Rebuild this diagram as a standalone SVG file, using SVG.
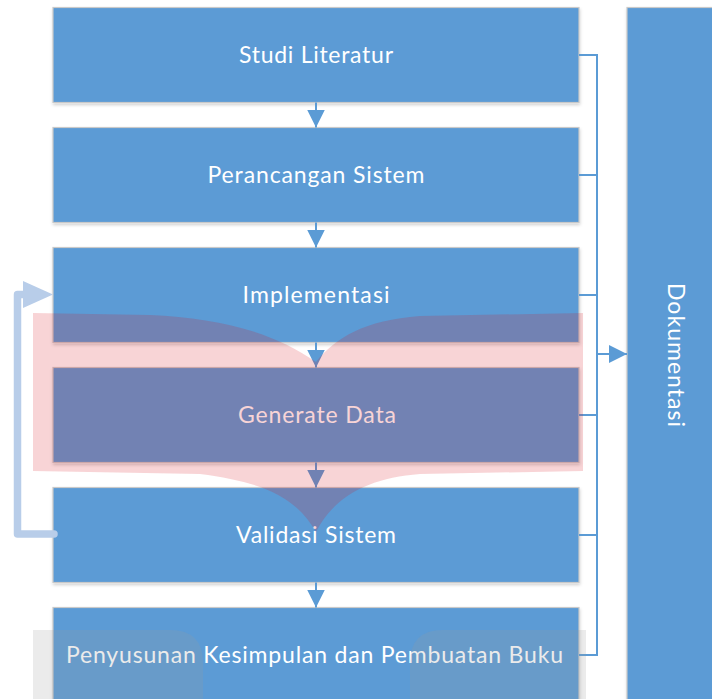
<svg xmlns="http://www.w3.org/2000/svg" width="712" height="699" viewBox="0 0 712 699">
  <defs>
    <style>
      .box { fill: #5b9bd5; stroke: #c9c9c9; stroke-width: 1.2; filter: url(#shadow); }
      .label { fill: #ffffff; font-family: Lato, "Open Sans", "Liberation Sans", sans-serif; font-size: 23px; text-anchor: middle; }
      .flow { fill: none; stroke: #5b9bd5; stroke-width: 2; }
      .loop { fill: none; stroke: #b8cde9; stroke-width: 7.5; stroke-linecap: round; stroke-linejoin: round; }
      .mark-red { fill: #d9111c; fill-opacity: 0.18; }
      .mark-grey { fill: #999999; fill-opacity: 0.2; }
    </style>
    <filter id="shadow" x="-5%" y="-10%" width="110%" height="125%">
      <feDropShadow dx="0.5" dy="2" stdDeviation="1.8" flood-color="#000000" flood-opacity="0.18"/>
    </filter>
    <marker id="head" markerUnits="userSpaceOnUse" markerWidth="20" markerHeight="20" refX="18" refY="9" orient="auto">
      <path d="M0,0 L18,9 L0,18 Z" fill="#5b9bd5"/>
    </marker>
  </defs>

  <!-- process steps -->
  <g id="studi-literatur">
    <rect class="box" x="53" y="7.5" width="526" height="95"/>
    <text class="label" x="316" y="63" textLength="154" lengthAdjust="spacing">Studi Literatur</text>
  </g>
  <g id="perancangan-sistem">
    <rect class="box" x="53" y="127.5" width="526" height="95"/>
    <text class="label" x="316" y="183" textLength="217" lengthAdjust="spacing">Perancangan Sistem</text>
  </g>
  <g id="implementasi">
    <rect class="box" x="53" y="247.5" width="526" height="95"/>
    <text class="label" x="316" y="303" textLength="147" lengthAdjust="spacing">Implementasi</text>
  </g>
  <g id="generate-data">
    <rect class="box" x="53" y="367.5" width="526" height="95"/>
    <text class="label" x="317" y="423" textLength="158" lengthAdjust="spacing">Generate Data</text>
  </g>
  <g id="validasi-sistem">
    <rect class="box" x="53" y="487.5" width="526" height="95"/>
    <text class="label" x="316" y="543" textLength="160" lengthAdjust="spacing">Validasi Sistem</text>
  </g>
  <g id="penyusunan">
    <rect class="box" x="53" y="607.5" width="526" height="100"/>
    <text class="label" x="314.5" y="663" textLength="497" lengthAdjust="spacing">Penyusunan Kesimpulan dan Pembuatan Buku</text>
  </g>
  <g id="dokumentasi">
    <rect class="box" x="627" y="7.5" width="100" height="700"/>
    <text class="label" transform="translate(668,355) rotate(90)" x="0" y="0" textLength="144" lengthAdjust="spacing">Dokumentasi</text>
  </g>

  <!-- connectors -->
  <g id="connectors">
    <path class="flow" d="M316,102.5 V127.5" marker-end="url(#head)"/>
    <path class="flow" d="M316,222.5 V247.5" marker-end="url(#head)"/>
    <path class="flow" d="M316,342.5 V367.5" marker-end="url(#head)"/>
    <path class="flow" d="M316,462.5 V487.5" marker-end="url(#head)"/>
    <path class="flow" d="M316,582.5 V607.5" marker-end="url(#head)"/>
    <!-- collector bus to Dokumentasi -->
    <path class="flow" d="M579,55 H597 V655 H579 M579,175 H597 M579,295 H597 M579,415 H597 M579,535 H597"/>
    <path class="flow" d="M597,354 H627" marker-end="url(#head)"/>
    <!-- feedback loop from validation back to implementation -->
    <path class="loop" d="M54,534 H17.5 V294.5 H26"/>
    <polygon points="23,281 53,294.5 23,308" fill="#b8cde9"/>
  </g>

  <!-- translucent emblem overlay -->
  <g id="emblem">
    <path class="mark-red" d="M33,313 L150,315 C215,318 270,330 316,362 C335,338 365,320 420,316 L583,313 L583,471 L420,474 C370,478 335,495 316,532 C295,495 260,482 200,474 L33,471 Z"/>
    <path class="mark-grey" d="M33,630 H170 Q203,630 203,663 V699 H33 Z"/>
    <path class="mark-grey" d="M443,630 H586 V699 H410 V663 Q410,630 443,630 Z"/>
  </g>
</svg>
